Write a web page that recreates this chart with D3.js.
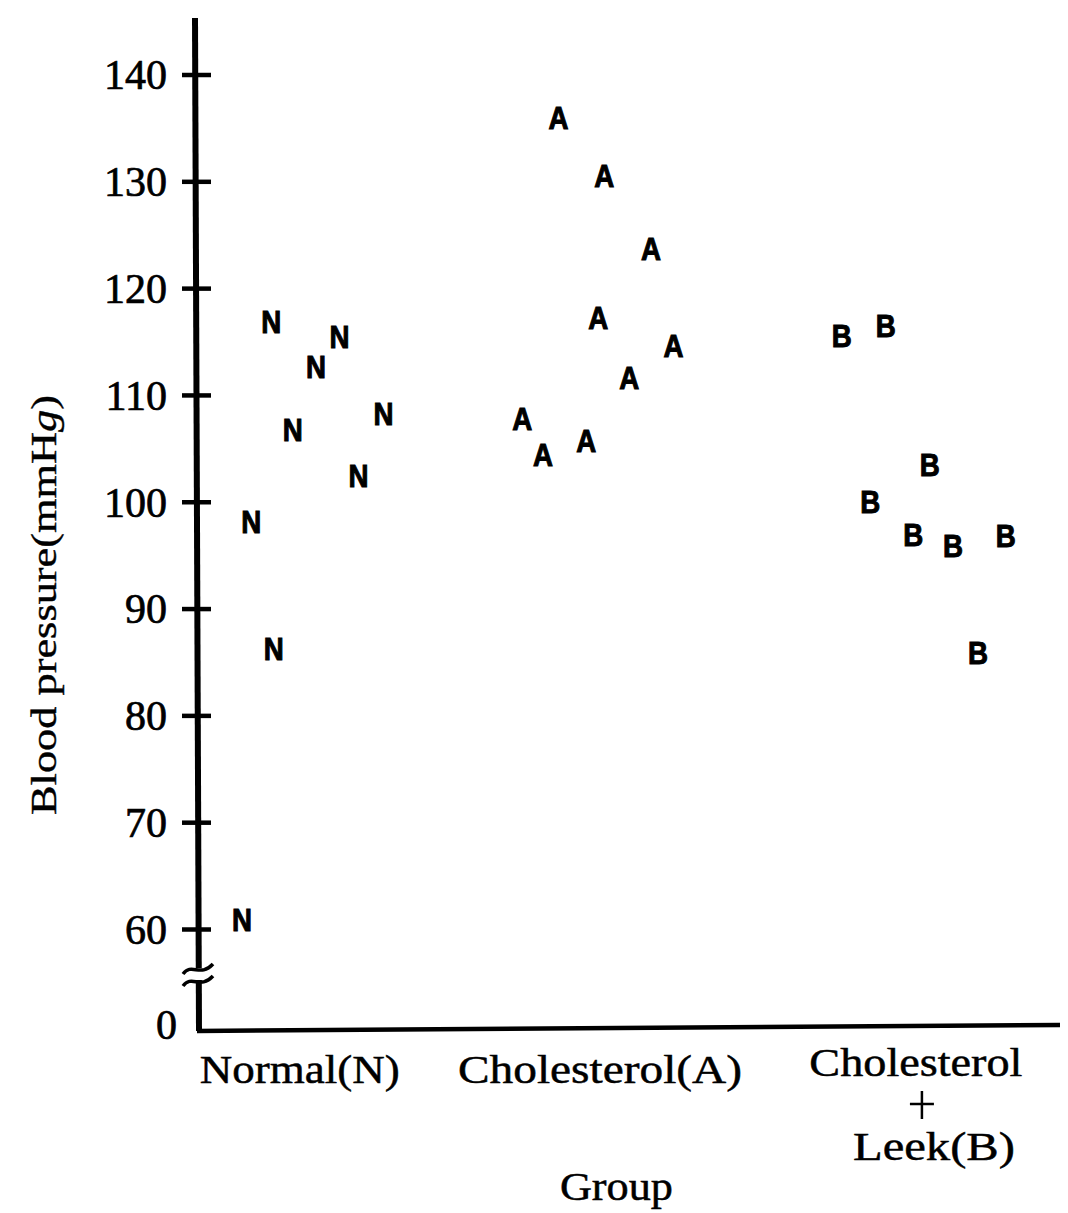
<!DOCTYPE html>
<html>
  <head>
    <meta charset="utf-8">
    <script type="text/javascript" src="https://cdn.jsdelivr.net/npm/d3@7"></script>
    <style>
      body { margin: 0; background: #fff; }
    </style>
  </head>
  <body>
    <script type="text/javascript">

// group labels and letters
var groups = ["N", "A", "B"];
var yTicks = [60, 70, 80, 90, 100, 110, 120, 130, 140];

// horizontal place of each point (0-100 along the axis) and its blood pressure
var normalX = [8.6, 16.5, 13.8, 11.1, 21.6, 18.7, 6.3, 8.9, 5.2];
var normalY = [116.8, 115.4, 112.6, 106.7, 108.2, 102.4, 98.1, 86.2, 60.9];

var cholX = [41.9, 47.2, 52.6, 46.5, 55.2, 50.1, 37.7, 40.1, 45.1];
var cholY = [135.9, 130.5, 123.7, 117.2, 114.6, 111.6, 107.8, 104.4, 105.7];

var leekX = [74.7, 79.8, 84.9, 78.0, 83.0, 87.6, 93.7, 90.5];
var leekY = [115.5, 116.5, 103.5, 100.0, 96.9, 95.9, 96.8, 85.9];

var w = 1068;
var h = 1213;
var serif = "'Liberation Serif', 'DejaVu Serif', serif";

var points = [];
[[normalX, normalY, groups[0]], [cholX, cholY, groups[1]], [leekX, leekY, groups[2]]].forEach(function(s) {
  s[0].forEach(function(x, i) { points.push({ x: x, y: s[1][i], g: s[2] }); });
});

var x = d3.scaleLinear().domain([0, 100]).range([197, 1060]);
var y = d3.scaleLinear().domain([60, 140]).range([929, 74.5]);
var baseY = 1031;

var svg =
  d3.select("body")
    .append("svg")
    .attr("width", w)
    .attr("height", h);

// y axis with ticks crossing the line
var yAxis = svg.append("g")
    .attr("transform", "translate(" + x(0) + ",0)")
    .call(d3.axisLeft(y).tickValues(yTicks).tickSize(14).tickPadding(16));
yAxis.select(".domain").remove();
yAxis.selectAll(".tick line")
    .attr("x1", -15).attr("x2", 14)
    .style("stroke", "#000").style("stroke-width", 4.5);
yAxis.selectAll(".tick text")
    .style("font-family", serif)
    .style("font-size", "42px")
    .style("stroke", "#000").style("stroke-width", 0.7)
    .attr("fill", "#000")
    .attr("dy", "0.34em");

svg.append("line")
    .attr("x1", x(0) - 2).attr("y1", 18)
    .attr("x2", x(0) + 2).attr("y2", baseY)
    .style("stroke", "#000").style("stroke-width", 6);

// x axis (baseline at 0)
svg.append("line")
    .attr("x1", x(0)).attr("y1", baseY)
    .attr("x2", x(100)).attr("y2", baseY - 6)
    .style("stroke", "#000").style("stroke-width", 4.5);

svg.append("text")
    .attr("x", x(0) - 20).attr("y", baseY - 6)
    .attr("text-anchor", "end")
    .attr("dy", "0.34em")
    .style("font-family", serif).style("font-size", "42px")
    .style("stroke", "#000").style("stroke-width", 0.7)
    .text("0");

// axis break
var bx = x(0) + 1;
svg.append("rect")
    .attr("x", bx - 6).attr("y", 968)
    .attr("width", 12).attr("height", 12)
    .style("fill", "#fff");
[968, 980].forEach(function(by) {
  svg.append("path")
      .attr("d", "M" + (bx - 15) + "," + (by + 6) +
                 " C" + (bx - 6) + "," + (by - 6) + " " + (bx + 2) + "," + (by + 10) + " " + (bx + 15) + "," + (by - 4))
      .style("fill", "none").style("stroke", "#000").style("stroke-width", 3.5);
});

// letters
svg.selectAll("text.pt")
    .data(points)
    .enter()
    .append("text")
    .attr("class", "pt")
    .attr("x", function(d) { return x(d.x); })
    .attr("y", function(d) { return y(d.y); })
    .attr("text-anchor", "middle")
    .attr("dy", "0.36em")
    .attr("textLength", 20)
    .attr("lengthAdjust", "spacingAndGlyphs")
    .style("font-family", "'Liberation Sans', Arial, sans-serif")
    .style("font-weight", "bold")
    .style("font-size", "31px")
    .style("stroke", "#000").style("stroke-width", 1)
    .text(function(d) { return d.g; });

// category labels
function label(t, cx, by, len, size) {
  svg.append("text")
      .attr("x", cx).attr("y", by)
      .attr("text-anchor", "middle")
      .attr("textLength", len)
      .attr("lengthAdjust", "spacingAndGlyphs")
      .style("font-family", serif)
      .style("font-size", size + "px")
      .style("stroke", "#000").style("stroke-width", 0.5)
      .text(t);
}
label("Normal(N)", x(11.9), 1083, 200, 41);
label("Cholesterol(A)", x(46.7), 1083, 284, 41);
label("Cholesterol", x(83.3), 1076, 213, 41);
label("Leek(B)", x(85.4), 1160, 162, 41);
label("Group", x(48.6), 1200, 113, 40);

// the plus sign
var px = x(84.0), py = 1104;
svg.append("line").attr("x1", px - 12).attr("x2", px + 12).attr("y1", py).attr("y2", py)
    .style("stroke", "#000").style("stroke-width", 2.5);
svg.append("line").attr("x1", px).attr("x2", px).attr("y1", py - 13).attr("y2", py + 15)
    .style("stroke", "#000").style("stroke-width", 2.5);

// y title
svg.append("text")
    .attr("transform", "translate(56,605) rotate(-90)")
    .attr("text-anchor", "middle")
    .attr("textLength", 420)
    .attr("lengthAdjust", "spacingAndGlyphs")
    .style("font-family", serif)
    .style("font-size", "36px")
    .style("stroke", "#000").style("stroke-width", 0.4)
    .text("Blood pressure(mmH")
    .append("tspan")
    .style("font-style", "italic")
    .text("g")
    .select(function() { return this.parentNode; })
    .append("tspan")
    .text(")");

    </script>
  </body>
</html>
